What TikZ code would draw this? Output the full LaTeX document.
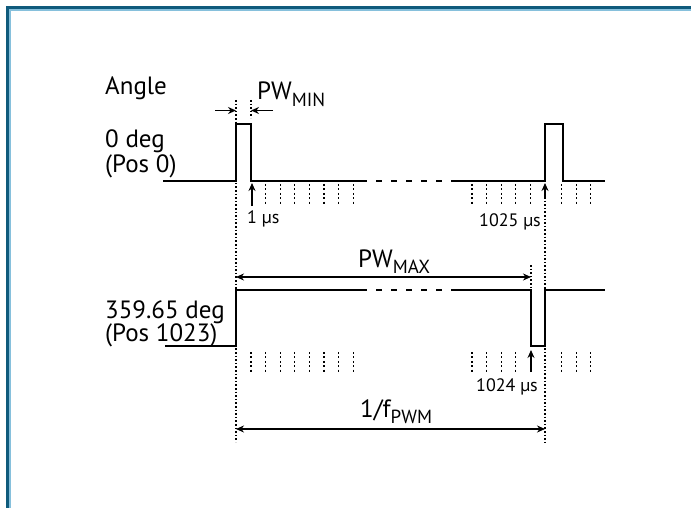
\documentclass[tikz,border=0pt]{standalone}
\usepackage{fontspec}
\setmainfont{PT Sans}
\usetikzlibrary{arrows.meta}

\definecolor{frameteal}{HTML}{0F5B7C}
\definecolor{framelight}{HTML}{86C0DC}

\newcommand{\lowtext}[1]{\raisebox{-6.5pt}{\fontsize{19}{19}\selectfont #1}}

\begin{document}
\begin{tikzpicture}[
  x=1pt, y=-1pt,
  >={Stealth[length=8pt, width=7pt]},
  wave/.style={line width=2.6pt},
  gap/.style={line width=2.6pt, dash pattern=on 6pt off 9pt, dash phase=6pt},
  guide/.style={line width=1.1pt, dash pattern=on 1.6pt off 2pt},
  tickmark/.style={line width=1.3pt, dash pattern=on 2pt off 2.4pt},
  dim/.style={line width=1.1pt},
  big/.style={font=\fontsize{25}{24}\selectfont, inner sep=0pt, anchor=base west},
  small/.style={font=\fontsize{18}{18}\selectfont, inner sep=0pt},
]

% --- Background and frame ---
\fill[white] (0,0) rectangle (691,508);
\useasboundingbox (0,0) rectangle (691,508);
\draw[framelight, line width=1.2pt] (10,510) -- (10,10) -- (693,10);
\draw[frameteal, line width=3pt] (7.5,510) -- (7.5,7.5) -- (693,7.5);

% --- Time marks ---
\coordinate (t0top) at (236,100);
\coordinate (t0bot) at (236,442);
\coordinate (tmin) at (251,100);
\coordinate (tmax) at (531,265);
\coordinate (tper) at (545,445);

% --- Labels on the left ---
\node[big] (angle) at (105,95) {Angle};
\node[big] (deg0) at (105,148) {0 deg};
\node[big] (pos0) at (105,172) {(Pos 0)};
\node[big] (deg359) at (105,318) {359.65 deg};
\node[big] (pos1023) at (105,341) {(Pos 1023)};

% --- Waveform at 0 deg ---
\draw[wave] (163,181) -- (236,181) -- (236,124) -- (251,124) -- (251,181)
  -- (367,181);
\draw[gap] (367,181) -- (456,181);
\draw[wave] (455,181) -- (545,181) -- (545,124) -- (563,124) -- (563,181)
  -- (605,181);

% --- Waveform at 359.65 deg ---
\draw[wave] (165,346) -- (236,346) -- (236,290) -- (367,290);
\draw[gap] (367,290) -- (456,290);
\draw[wave] (455,290) -- (531,290) -- (531,346) -- (545,346) -- (545,290)
  -- (605,290);

% --- Guide lines ---
\draw[guide] (t0top) -- (t0bot);
\draw[guide] (tmin) -- (251,118);
\draw[guide] (545,197) -- (tper);
\draw[guide] (tmax) -- (531,288);

% Ticks
\foreach \k in {1,...,7}
  \draw[tickmark] ({251+\k*14.6},184) -- ++(0,21);
\foreach \k in {1,...,5}
  \draw[tickmark] ({545-\k*14.6},184) -- ++(0,21);
\foreach \k in {0,...,7}
  \draw[tickmark] ({251+\k*14.6},352) -- ++(0,21);
\foreach \k in {2,...,5}
  \draw[tickmark] ({545-\k*14.6},352) -- ++(0,21);
\foreach \k in {1,2,3} {
  \draw[tickmark] ({547+\k*14.6},184) -- ++(0,21);
  \draw[tickmark] ({547+\k*14.6},352) -- ++(0,21);
}

% --- Pulse width PW_MIN ---
\coordinate (minl) at (215,110.5);
\coordinate (minr) at (273,110.5);
\draw[dim, ->] (minl) -- (236,110.5);
\draw[dim, ->] (minr) -- (251,110.5);
\node[big] (pwmin) at (257,100) {PW\lowtext{MIN}};

% --- Sample arrows ---
\draw[dim, ->] (252,206) -- (252,183);
\node[small, anchor=base west] (us1) at (247,223) {1 µs};
\draw[dim, ->] (545,197) -- (545,183);
\node[small, anchor=base east] (us1025) at (541,226) {1025 µs};
\draw[dim, ->] (531,372) -- (531,350);
\node[small, anchor=base east] (us1024) at (538,391) {1024 µs};

% --- PW_MAX ---
\draw[dim, <->] (236,277) -- (531,277);
\node[big] (pwmax) at (358,267) {PW\lowtext{MAX}};

% --- Period ---
\draw[dim, <->] (236,429) -- (545,429);
\node[big] (period) at (360,417) {1/f\lowtext{PWM}};

\end{tikzpicture}
\end{document}
